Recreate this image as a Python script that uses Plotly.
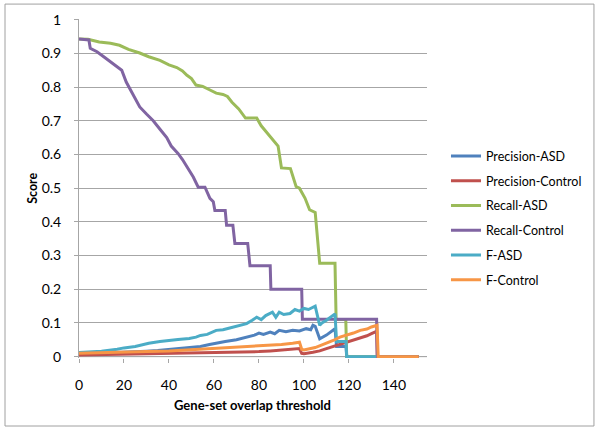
import plotly.graph_objects as go

# ---- data ----
prec_asd_x = [0, 5, 10, 20, 25, 30, 35, 40, 45, 50, 54, 58, 60, 65, 70, 74.5, 78, 80, 82, 85, 87, 89, 92, 95, 98, 101, 103, 104, 105, 107, 110, 113.8, 114.5, 118.7, 119, 151]
prec_asd_y = [0.008, 0.009, 0.01, 0.012, 0.014, 0.016, 0.018, 0.021, 0.024, 0.027, 0.03, 0.036, 0.039, 0.045, 0.05, 0.058, 0.064, 0.07, 0.066, 0.073, 0.068, 0.078, 0.074, 0.078, 0.076, 0.083, 0.08, 0.093, 0.09, 0.053, 0.064, 0.083, 0.03, 0.03, 0, 0]

prec_ctl_x = [0, 10, 20, 30, 40, 50, 60, 70, 75, 80, 85, 90, 95, 98, 99, 100, 104, 107, 110, 113, 116, 119, 122, 125, 128, 130, 132.3, 132.6, 151]
prec_ctl_y = [0.005, 0.006, 0.007, 0.008, 0.009, 0.01, 0.011, 0.013, 0.014, 0.015, 0.017, 0.019, 0.021, 0.024, 0.01, 0.009, 0.013, 0.017, 0.024, 0.03, 0.037, 0.043, 0.048, 0.055, 0.062, 0.068, 0.075, 0, 0]

rec_asd_x = [0, 4, 9, 14, 18, 22, 27, 31, 36, 40, 43.5, 46, 48, 50, 52, 55, 58, 61, 64, 66, 68, 71, 74, 79, 81, 84, 86, 88.5, 90, 94, 96.5, 98, 100.5, 102.5, 105, 107, 113.8, 114.3, 118.6, 119, 151]
rec_asd_y = [0.943, 0.942, 0.934, 0.93, 0.924, 0.912, 0.901, 0.89, 0.879, 0.866, 0.858, 0.848, 0.835, 0.825, 0.806, 0.802, 0.792, 0.782, 0.778, 0.772, 0.755, 0.735, 0.708, 0.708, 0.685, 0.66, 0.645, 0.625, 0.56, 0.558, 0.505, 0.5, 0.47, 0.436, 0.428, 0.277, 0.277, 0.11, 0.11, 0, 0]

rec_ctl_x = [0, 4.4, 5, 8, 11, 15, 19, 21, 24, 27, 30, 33, 36, 39, 41, 44, 46, 48, 50.8, 53, 56, 58.2, 59.7, 60.4, 65, 65.6, 68.4, 69.3, 75, 76, 85, 85.3, 99, 99.3, 132.3, 132.6, 151]
rec_ctl_y = [0.943, 0.94, 0.915, 0.905, 0.89, 0.87, 0.85, 0.815, 0.78, 0.741, 0.72, 0.7, 0.675, 0.65, 0.625, 0.603, 0.585, 0.565, 0.533, 0.503, 0.503, 0.47, 0.46, 0.434, 0.434, 0.39, 0.39, 0.336, 0.336, 0.27, 0.27, 0.2, 0.2, 0.111, 0.111, 0, 0]

f_asd_x = [0, 5, 10, 17, 20, 25, 31, 36, 40, 44, 49, 52, 54, 57, 61, 64, 67, 70, 74.5, 77, 79, 81, 83, 86, 87.5, 89, 91, 93.8, 96, 98, 100, 102, 105, 107, 108, 110, 112, 113.8, 114.5, 118.7, 119, 132]
f_asd_y = [0.012, 0.014, 0.016, 0.022, 0.026, 0.03, 0.04, 0.045, 0.047, 0.051, 0.054, 0.058, 0.063, 0.066, 0.078, 0.08, 0.085, 0.09, 0.098, 0.108, 0.117, 0.11, 0.122, 0.132, 0.117, 0.132, 0.125, 0.128, 0.14, 0.135, 0.143, 0.14, 0.15, 0.093, 0.1, 0.108, 0.118, 0.127, 0.045, 0.045, 0, 0]

f_ctl_x = [0, 10, 20, 30, 40, 45, 55, 60, 70, 75, 80, 85, 90, 95, 98, 99, 100, 105, 110, 113, 116, 119, 122, 125, 128, 130, 132.5, 133, 151]
f_ctl_y = [0.01, 0.011, 0.013, 0.015, 0.017, 0.019, 0.021, 0.024, 0.027, 0.029, 0.031, 0.034, 0.036, 0.04, 0.043, 0.022, 0.02, 0.027, 0.039, 0.048, 0.058, 0.063, 0.07, 0.078, 0.082, 0.088, 0.093, 0, 0]

series_names = ["Precision-ASD", "Precision-Control", "Recall-ASD", "Recall-Control", "F-ASD", "F-Control"]
series_x = [prec_asd_x, prec_ctl_x, rec_asd_x, rec_ctl_x, f_asd_x, f_ctl_x]
series_y = [prec_asd_y, prec_ctl_y, rec_asd_y, rec_ctl_y, f_asd_y, f_ctl_y]
colors = ["#4F81BD", "#C0504D", "#9BBB59", "#8064A2", "#4BACC6", "#F79646"]

y_ticks = [0, 0.1, 0.2, 0.3, 0.4, 0.5, 0.6, 0.7, 0.8, 0.9, 1]
x_ticks = [0, 20, 40, 60, 80, 100, 120, 140]

FONT = "Lato, 'Open Sans', sans-serif"
GRID = "#A6A6A6"

fig = go.Figure()
for name, xs, ys, c in zip(series_names, series_x, series_y, colors):
    fig.add_trace(go.Scatter(x=xs, y=ys, mode="lines", name=name,
                             legendgroup=name,
                             line=dict(color=c, width=3)))

fig.update_layout(
    width=600, height=433,
    margin=dict(l=79, r=5, t=19, b=75, pad=0, autoexpand=False),
    paper_bgcolor="white", plot_bgcolor="white",
    font=dict(family=FONT, size=14, color="#000000"),
    showlegend=True,
    legend=dict(x=0.7112, y=0.639, xanchor="left", yanchor="top",
                font=dict(family=FONT, size=12.5, color="#000"),
                tracegroupgap=5.5, bgcolor="rgba(0,0,0,0)"),
    xaxis=dict(domain=[0, 0.67442], range=[0, 154.7], tickvals=x_ticks,
               ticks="outside", ticklen=4, automargin=False,
               tickcolor=GRID, showgrid=False, showline=False, zeroline=False,
               ticklabelstandoff=10, tickfont=dict(size=14)),
    yaxis=dict(domain=[0, 1], range=[-0.004, 1.002], tickvals=y_ticks,
               ticks="outside", ticklen=4, automargin=False,
               tickcolor=GRID, showgrid=True, gridcolor=GRID, gridwidth=1,
               showline=True, linecolor=GRID, linewidth=1, zeroline=False,
               ticklabelstandoff=10, tickfont=dict(size=14)),
    annotations=[
        dict(text="<b>Score</b>", xref="paper", yref="paper", x=-0.0917, y=0.501,
             textangle=-90, showarrow=False, xanchor="center", yanchor="middle",
             font=dict(size=12.5)),
        dict(text="<b>Gene-set overlap threshold</b>", xref="paper", yref="paper",
             x=0.3353, y=-0.139, showarrow=False, xanchor="center", yanchor="middle",
             font=dict(size=13)),
    ],
    shapes=[
        dict(type="line", xref="x domain", yref="y", x0=0, x1=1, y0=0, y1=0,
             line=dict(color=GRID, width=1), layer="below"),
        dict(type="rect", xref="paper", yref="paper", x0=-0.1434, x1=0.998,
             y0=-0.2006, y1=1.044, line=dict(color="#A0A0A0", width=1),
             fillcolor="rgba(0,0,0,0)", layer="below"),
    ],
)

fig.write_html("out.html", config={"displayModeBar": False},
               post_script="document.body.style.margin='0';document.body.style.padding='0';")
